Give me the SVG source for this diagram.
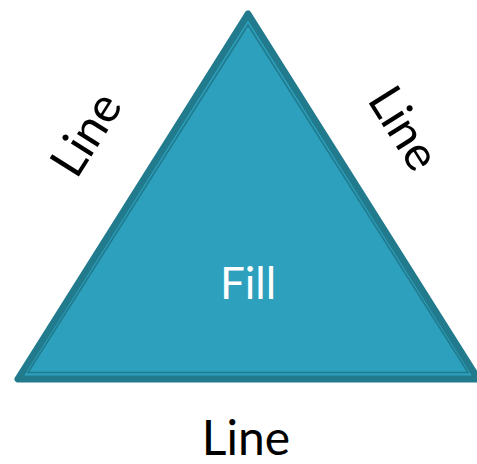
<svg xmlns="http://www.w3.org/2000/svg" width="477" height="464" viewBox="0 0 477 464">
<style>
.lbl{font-family:Lato,"DejaVu Sans",sans-serif;font-size:48px;fill:#000;text-anchor:middle}
.fill{font-family:Lato,"DejaVu Sans",sans-serif;font-size:44px;fill:#fff;text-anchor:middle}
</style>
<rect width="477" height="464" fill="#fff"/>
<g id="triangle">
<polygon points="248,14 18,379 478,379" fill="#2da0be" stroke="#217b8d" stroke-width="7" stroke-linejoin="round"/>
<polygon points="248,25 28,372.5 468,372.5" fill="none" stroke="#217b8d" stroke-width="1.6"/>
<text class="fill" x="248" y="299">Fill</text>
</g>
<g id="labels">
<text class="lbl" transform="translate(100,143) rotate(-57.8)">Line</text>
<text class="lbl" transform="translate(390,137) rotate(57.8)">Line</text>
<text class="lbl" x="246" y="455">Line</text>
</g>
</svg>
